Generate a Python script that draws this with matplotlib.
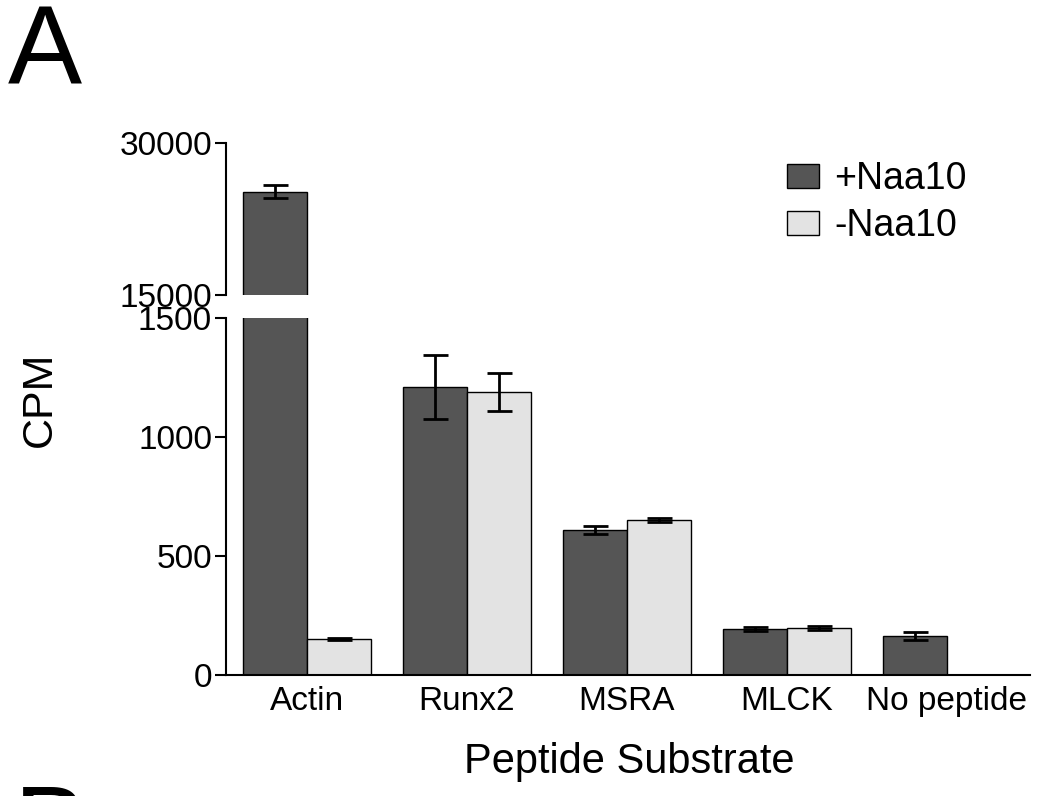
import matplotlib.pyplot as plt
import numpy as np

plt.rcParams['font.family'] = ['Liberation Sans', 'DejaVu Sans']

peptides = ['Actin', 'Runx2', 'MSRA', 'MLCK', 'No peptide']
plus_naa10 = [25200, 1210, 609, 193, 164]
plus_err = [650, 135, 15, 8, 15]
minus_naa10 = [151, 1189, 651, 197, np.nan]
minus_err = [5, 80, 10, 7, np.nan]

dark = '#555555'
light = '#e3e3e3'


def draw_bars(ax, x, w):
    ax.bar(x - w / 2, plus_naa10, w, color=dark, edgecolor='black', linewidth=1,
           label='+Naa10', zorder=2)
    ax.bar(x + w / 2, minus_naa10, w, color=light, edgecolor='black', linewidth=1,
           label='-Naa10', zorder=2)
    ax.errorbar(x - w / 2, plus_naa10, yerr=plus_err, fmt='none', ecolor='black',
                elinewidth=2, capsize=9, capthick=2, zorder=3)
    ax.errorbar(x + w / 2, minus_naa10, yerr=minus_err, fmt='none', ecolor='black',
                elinewidth=2, capsize=9, capthick=2, zorder=3)


fig = plt.figure(figsize=(10.39, 7.96), dpi=100)
left = 226 / 1039
width = 804 / 1039
ax_top = fig.add_axes([left, 1 - 295 / 796, width, 152 / 796])
ax_bot = fig.add_axes([left, 1 - 675 / 796, width, 357 / 796])

x = np.arange(len(peptides))
w = 0.4
draw_bars(ax_top, x, w)
draw_bars(ax_bot, x, w)

for ax in (ax_top, ax_bot):
    ax.set_xlim(-0.506, 4.52)
    ax.spines['top'].set_visible(False)
    ax.spines['right'].set_visible(False)
    ax.spines['left'].set_linewidth(1.5)
    ax.tick_params(axis='y', labelsize=24, width=1.5, length=8, direction='out', pad=2)

ax_top.set_ylim(15000, 30000)
ax_top.set_yticks([15000, 30000])
ax_top.spines['bottom'].set_visible(False)
ax_top.set_xticks([])

ax_bot.set_ylim(0, 1500)
ax_bot.set_yticks([0, 500, 1000, 1500])
ax_bot.spines['bottom'].set_linewidth(1.5)
ax_bot.set_xticks(x)
ax_bot.set_xticklabels(peptides, fontsize=24)
ax_bot.tick_params(axis='x', length=0, pad=8)

ax_top.legend(fontsize=27, frameon=False, loc='upper left',
              bbox_to_anchor=(772 / 1039, 1 - 146 / 796),
              bbox_transform=fig.transFigure,
              handlelength=0.85, handleheight=0.6, handletextpad=0.4,
              labelspacing=0.3, borderaxespad=0)

fig.text(40 / 1039, 1 - 399 / 796, 'CPM', fontsize=31, rotation=90,
         ha='center', va='center')
fig.text(629 / 1039, 1 - 762 / 796, 'Peptide Substrate', fontsize=30,
         ha='center', va='center')
fig.text(8 / 1039, 1 - 2 / 796, 'A', fontsize=80, ha='left', va='top')
fig.text(14 / 1039, 1 - 783 / 796, 'B', fontsize=80, ha='left', va='top')

fig.savefig('out.png', dpi=100)
